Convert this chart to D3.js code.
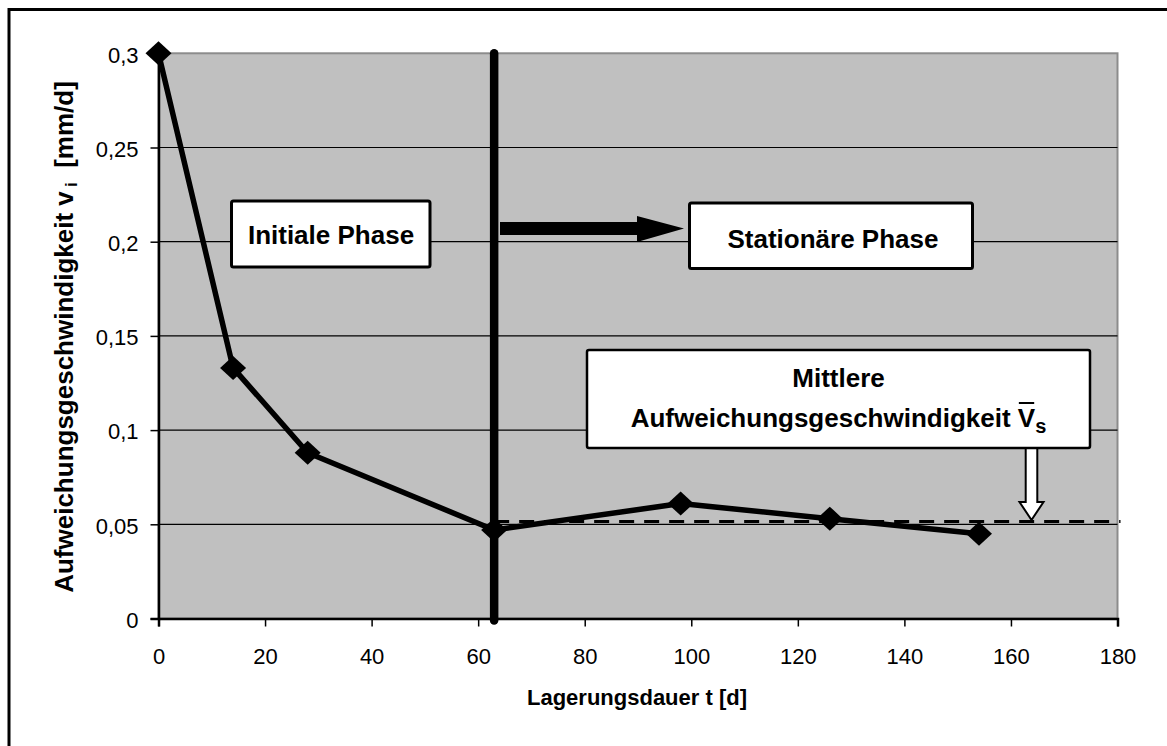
<!DOCTYPE html>
<html><head><meta charset="utf-8">
<script src="https://cdn.jsdelivr.net/npm/d3@7"></script>
<style>
html,body{margin:0;padding:0;background:#fff;}
svg{display:block;font-family:"Liberation Sans",Arial,sans-serif;}
</style></head>
<body>
<svg id="c" width="1167" height="746"></svg>
<script>
// ---- data ----
const days = [0, 14, 28, 63, 98, 126, 154];
const rates = [0.3, 0.133, 0.088, 0.047, 0.061, 0.053, 0.045];
const xTicks = [0, 20, 40, 60, 80, 100, 120, 140, 160, 180];
const yTicks = [0, 0.05, 0.1, 0.15, 0.2, 0.25, 0.3];
const phaseBoundary = 63;
const meanRate = 0.0515;
const xTitle = "Lagerungsdauer t [d]";
const yTitleMain = "Aufweichungsgeschwindigkeit v";
const yTitleSub = "i";
const yTitleUnit = "  [mm/d]";
const labelInitial = "Initiale Phase";
const labelStationary = "Stationäre Phase";
const labelMean1 = "Mittlere";
const labelMean2 = "Aufweichungsgeschwindigkeit ";

const svg = d3.select("#c");
const fmt = d => String(d).replace(".", ",");

const x = d3.scaleLinear().domain([0, 180]).range([158.5, 1117.5]);
const y = d3.scaleLinear().domain([0, 0.3]).range([618.5, 53.3]);

// outer frame
svg.append("rect").attr("x", 9).attr("y", 9.5).attr("width", 1200).attr("height", 800)
  .attr("fill", "none").attr("stroke", "#000").attr("stroke-width", 3);

// plot background
svg.append("rect").attr("x", x(0)).attr("y", y(0.3)).attr("width", x(180) - x(0)).attr("height", y(0) - y(0.3))
  .attr("fill", "#c0c0c0").attr("stroke", "#8c8c8c").attr("stroke-width", 2);

// grid
svg.append("g").selectAll("line").data(yTicks.filter(v => v > 0 && v < 0.3)).join("line")
  .attr("x1", x(0)).attr("x2", x(180)).attr("y1", d => y(d)).attr("y2", d => y(d))
  .attr("stroke", "#000").attr("stroke-width", 1.2);

// axes
const ax = svg.append("g").attr("transform", `translate(0,${y(0)})`)
  .call(d3.axisBottom(x).tickValues(xTicks).tickSize(8).tickPadding(22).tickFormat(d => d));
const ay = svg.append("g").attr("transform", `translate(${x(0)},0)`)
  .call(d3.axisLeft(y).tickValues(yTicks).tickSize(8).tickPadding(12).tickFormat(fmt));
[ax, ay].forEach(g => {
  g.select(".domain").attr("stroke", "#000").attr("stroke-width", 2.5);
  g.selectAll(".tick line").attr("stroke", "#000").attr("stroke-width", 1.5);
  g.selectAll(".tick text").attr("font-size", 22).attr("fill", "#000")
   .attr("font-family", "'Liberation Sans',Arial,sans-serif");
});
ay.selectAll(".tick text").attr("dy", "0.4em");

// dashed mean line
svg.append("line").attr("x1", x(phaseBoundary)).attr("x2", x(180) + 3)
  .attr("y1", y(meanRate)).attr("y2", y(meanRate))
  .attr("stroke", "#000").attr("stroke-width", 3).attr("stroke-dasharray", "15,10");

// phase boundary line
svg.append("line").attr("x1", x(phaseBoundary)).attr("x2", x(phaseBoundary))
  .attr("y1", y(0.3)).attr("y2", y(0) + 2)
  .attr("stroke", "#000").attr("stroke-width", 8.5).attr("stroke-linecap", "round");

// series line
const pts = days.map((d, i) => [d, rates[i]]);
svg.append("path").datum(pts)
  .attr("d", d3.line().x(d => x(d[0])).y(d => y(d[1])))
  .attr("fill", "none").attr("stroke", "#000").attr("stroke-width", 5.5).attr("stroke-linejoin", "round");

// markers
svg.append("g").selectAll("path").data(pts).join("path")
  .attr("d", "M0,-12L13,0L0,12L-13,0Z")
  .attr("transform", d => `translate(${x(d[0])},${y(d[1])})`)
  .attr("fill", "#000");

// right arrow
svg.append("path").attr("d", "M500,222L637,222L637,216L684,228.5L637,242L637,235L500,235Z").attr("fill", "#000");

// boxes
function box(x0, y0, w, h, sw) {
  svg.append("rect").attr("x", x0).attr("y", y0).attr("width", w).attr("height", h).attr("rx", 2)
    .attr("fill", "#fff").attr("stroke", "#000").attr("stroke-width", sw);
}
function label(txt, cx, by, size) {
  return svg.append("text").attr("x", cx).attr("y", by).attr("text-anchor", "middle")
    .attr("font-size", size).attr("font-weight", "bold").attr("fill", "#000").text(txt);
}
box(231.5, 201, 198.5, 66, 3);
label(labelInitial, 331, 244, 26);

box(689.5, 203, 283, 65.5, 3);
label(labelStationary, 833, 247.5, 26);

// down arrow (mean indicator)
svg.append("path").attr("d", "M1025.7,446L1037.3,446L1037.3,502L1043.5,502L1031.5,520L1019.5,502L1025.7,502Z")
  .attr("fill", "#fff").attr("stroke", "#000").attr("stroke-width", 2);

box(587, 350, 503, 98, 2.5);
label(labelMean1, 838.5, 386.5, 26);
const t2 = svg.append("text").attr("x", 838.5).attr("y", 426.5).attr("text-anchor", "middle")
  .attr("font-size", 26).attr("font-weight", "bold").attr("fill", "#000");
t2.append("tspan").text(labelMean2);
t2.append("tspan").text("V");
t2.append("tspan").attr("font-size", 20).attr("dy", 6).text("s");
// overline above V
{
  const n = t2.node();
  const idx = labelMean2.length;
  const sx = n.getStartPositionOfChar(idx).x;
  const ex = n.getEndPositionOfChar(idx).x;
  svg.append("line").attr("x1", sx + 1).attr("x2", ex - 1).attr("y1", 403).attr("y2", 403)
    .attr("stroke", "#000").attr("stroke-width", 2);
}

// axis titles
svg.append("text").attr("x", 637).attr("y", 705).attr("text-anchor", "middle")
  .attr("font-size", 22).attr("font-weight", "bold").attr("fill", "#000").text(xTitle);

const yt = svg.append("text").attr("transform", "translate(73,337) rotate(-90)")
  .attr("text-anchor", "middle").attr("font-size", 26).attr("font-weight", "bold").attr("fill", "#000");
yt.append("tspan").text(yTitleMain);
yt.append("tspan").attr("font-size", 16).attr("dy", 4).text(" " + yTitleSub);
yt.append("tspan").attr("dy", -4).attr("xml:space", "preserve").style("white-space", "pre").text(yTitleUnit);
</script>
</body></html>
